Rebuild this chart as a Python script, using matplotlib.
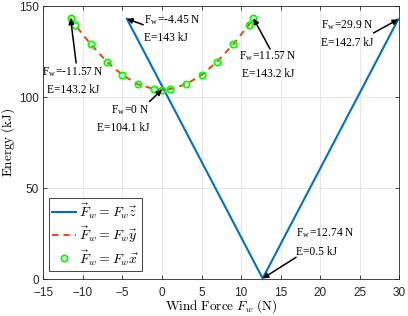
import matplotlib
matplotlib.use("Agg")
import matplotlib.pyplot as plt

plt.rcParams['mathtext.fontset'] = 'cm'

# Data
z_force = [-4.45, 12.74, 29.9]
z_energy = [143.0, 0.5, 142.7]

xy_force = [-11.57, -11, -9, -7, -5, -3, -1, 0, 1, 3, 5, 7, 9, 11, 11.57]
y_energy = [143.2, 139.7, 128.9, 119.5, 112.1, 107.0, 104.4, 104.1, 104.4, 107.0, 112.1, 119.5, 128.9, 139.7, 143.2]
x_energy = [143.2, 139.7, 128.9, 119.5, 112.1, 107.0, 104.4, 104.1, 104.4, 107.0, 112.1, 119.5, 128.9, 139.7, 143.2]

xticks = [-15, -10, -5, 0, 5, 10, 15, 20, 25, 30]
yticks = [0, 50, 100, 150]

# annotations: (head x, head y, tail x, tail y, text x, text y, ha, line1, line2)
annots = [
    (-4.45, 143.0, -2.38, 139.7, -2.26, 137.5, 'left', '-4.45 N', 'E=143 kJ'),
    (-11.57, 143.2, -10.87, 118.7, -11.25, 109.0, 'center', '-11.57 N', 'E=143.2 kJ'),
    (0.0, 104.1, -1.58, 97.6, -1.62, 88.1, 'right', '0 N', 'E=104.1 kJ'),
    (11.57, 143.2, 13.68, 126.4, 13.46, 118.0, 'center', '11.57 N', 'E=143.2 kJ'),
    (29.9, 142.7, 26.77, 135.2, 20.14, 134.8, 'left', '29.9 N', 'E=142.7 kJ'),
    (12.74, 0.5, 16.97, 12.1, 16.97, 20.5, 'left', '12.74 N', 'E=0.5 kJ'),
]

fig = plt.figure(figsize=(4.08, 3.16), dpi=100)
ax = fig.add_axes([0.1066, 0.116, 0.8714, 0.865])

ax.plot(z_force, z_energy, color='#0072BD', lw=1.5, label=r'$\vec{F}_w = F_w\vec{z}$', zorder=3)
ax.plot(xy_force, y_energy, color='#D95319', lw=1.5, ls=(0, (3, 2.5)), label=r'$\vec{F}_w = F_w\vec{y}$', zorder=3)
ax.plot(xy_force, x_energy, ls='none', marker='o', mfc='none', mec='#00FF00', ms=4.5, mew=1.3,
        label=r'$\vec{F}_w = F_w\vec{x}$', zorder=4)

ax.set_xlim(-15, 30)
ax.set_ylim(0, 150)
ax.set_xticks(xticks)
ax.set_yticks(yticks)
ax.grid(True, color='#e3e3e3', lw=0.6)
ax.set_axisbelow(True)
ax.tick_params(direction='in', top=True, right=True, length=3, width=0.6,
               labelsize=8.5, colors='#262626')
ax.tick_params(axis='x', pad=5.5)
ax.tick_params(axis='y', pad=3.5)
for lab in ax.get_xticklabels() + ax.get_yticklabels():
    lab.set_family('Liberation Sans')
for s in ax.spines.values():
    s.set_color('#262626')
    s.set_linewidth(0.6)

ax.set_xlabel(r'$\mathrm{Wind\ Force}\ F_w\ \mathrm{(N)}$', fontsize=9.5, labelpad=-1)
ax.set_ylabel(r'$\mathrm{Energy\ (kJ)}$', fontsize=9.5, labelpad=1.5)

for hx, hy, tx, ty, lx, ly, ha, l1, l2 in annots:
    ax.annotate('', xy=(hx, hy), xytext=(tx, ty),
                arrowprops=dict(arrowstyle='-|>', color='black', lw=1.1,
                                mutation_scale=8, shrinkA=0, shrinkB=0), zorder=5)
    ax.text(lx, ly, r'F$_{\mathregular{w}}$=' + l1 + '\n' + l2, family='Liberation Serif',
            fontsize=8.3, ha=ha, va='center', linespacing=1.6, multialignment=ha, zorder=6)

leg = ax.legend(loc='lower left', bbox_to_anchor=(0.015, 0.03), fontsize=10,
                handlelength=1.7, handletextpad=0.2, labelspacing=0.25, borderpad=0.25,
                borderaxespad=0, fancybox=False, framealpha=1)
leg.get_frame().set_edgecolor('#262626')
leg.get_frame().set_linewidth(0.6)

fig.savefig('out.png', dpi=100)
